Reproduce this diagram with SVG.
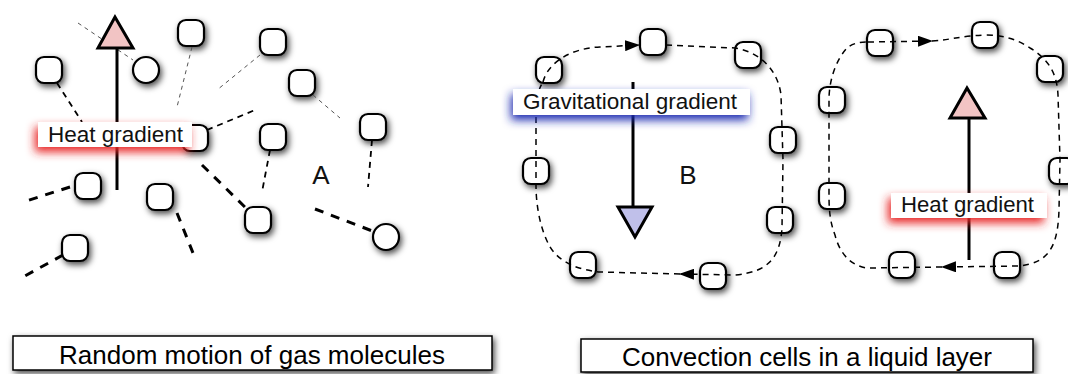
<svg xmlns="http://www.w3.org/2000/svg" width="1068" height="374" viewBox="0 0 1068 374">
<defs>
<filter id="sh" x="-50%" y="-50%" width="200%" height="200%">
<feDropShadow dx="2" dy="3" stdDeviation="3" flood-color="#000" flood-opacity="0.7"/>
</filter>
<filter id="glowR" x="-30%" y="-80%" width="160%" height="260%">
<feDropShadow dx="-3" dy="5" stdDeviation="5" flood-color="#e82828" flood-opacity="1"/>
</filter>
<filter id="glowB" x="-30%" y="-80%" width="160%" height="260%">
<feDropShadow dx="-2" dy="5" stdDeviation="5" flood-color="#1a2ab0" flood-opacity="1"/>
</filter>
<filter id="blur6" x="-200%" y="-100%" width="500%" height="300%">
<feGaussianBlur stdDeviation="6"/>
</filter>
<marker id="ah" viewBox="0 0 15 11" refX="14" refY="5.5" markerWidth="15" markerHeight="11" markerUnits="userSpaceOnUse" orient="auto">
<path d="M0,0 L15,5.5 L0,11 Z" fill="#000"/>
</marker>
<style>
.m{fill:#fff;stroke:#000;stroke-width:2.2;filter:url(#sh)}
.thin{stroke:#555;stroke-width:1;stroke-dasharray:4 4;fill:none}
.med{stroke:#000;stroke-width:1.8;stroke-dasharray:6 5;fill:none}
.thick{stroke:#000;stroke-width:3;stroke-dasharray:9 8;fill:none}
.cyc{stroke:#000;stroke-width:1.5;stroke-dasharray:6 5;fill:none}
.shaft{stroke:#000;stroke-width:3;fill:none}
.lbl{font-family:"Liberation Sans",Arial,Helvetica,sans-serif;font-size:22px;fill:#111}
.big{font-family:"Liberation Sans",Arial,Helvetica,sans-serif;font-size:26px;fill:#111}
.cap{font-family:"Liberation Sans",Arial,Helvetica,sans-serif;font-size:26px;fill:#000}
.box{fill:#fff;stroke:#000;stroke-width:1.5;filter:url(#sh)}
.lbox{fill:#fff}
</style>
</defs>
<rect width="1068" height="374" fill="#fff"/>

<!-- Section A molecules -->
<g id="molecules-A">
<rect id="a1" class="m" x="36" y="57" width="26" height="26" rx="8"/>
<circle id="a2" class="m" cx="146" cy="70" r="13"/>
<rect id="a3" class="m" x="178" y="20" width="26" height="26" rx="8"/>
<rect id="a4" class="m" x="260" y="29" width="26" height="26" rx="8"/>
<rect id="a5" class="m" x="289" y="70" width="26" height="26" rx="8"/>
<rect id="a6" class="m" x="360" y="114" width="26" height="26" rx="8"/>
<rect id="a7" class="m" x="182" y="125" width="26" height="26" rx="8"/>
<rect id="a8" class="m" x="260" y="124" width="26" height="26" rx="8"/>
<rect id="a9" class="m" x="75" y="173" width="26" height="26" rx="8"/>
<rect id="a10" class="m" x="147" y="184" width="26" height="26" rx="8"/>
<rect id="a11" class="m" x="245" y="207" width="26" height="26" rx="8"/>
<rect id="a12" class="m" x="62" y="235" width="26" height="26" rx="8"/>
<circle id="a13" class="m" cx="386" cy="237" r="13"/>
</g>

<!-- Section B molecules -->
<g id="molecules-B">
<rect id="b1" class="m" x="536" y="57" width="26" height="26" rx="8"/>
<rect id="b2" class="m" x="640" y="29" width="26" height="26" rx="8"/>
<rect id="b3" class="m" x="735" y="42" width="26" height="26" rx="8"/>
<rect id="b4" class="m" x="770" y="127" width="26" height="26" rx="8"/>
<rect id="b5" class="m" x="767" y="207" width="26" height="26" rx="8"/>
<rect id="b6" class="m" x="700" y="263" width="26" height="26" rx="8"/>
<rect id="b7" class="m" x="570" y="252" width="26" height="26" rx="8"/>
<rect id="b8" class="m" x="523" y="158" width="26" height="26" rx="8"/>
</g>

<!-- Section C molecules -->
<g id="molecules-C">
<rect id="c1" class="m" x="867" y="30" width="26" height="26" rx="8"/>
<rect id="c2" class="m" x="972" y="22" width="26" height="26" rx="8"/>
<rect id="c3" class="m" x="1037" y="56" width="26" height="26" rx="8"/>
<rect id="c4" class="m" x="1049" y="158" width="26" height="26" rx="8"/>
<rect id="c5" class="m" x="994" y="252" width="26" height="26" rx="8"/>
<rect id="c6" class="m" x="889" y="252" width="26" height="26" rx="8"/>
<rect id="c7" class="m" x="819" y="183" width="26" height="26" rx="8"/>
<rect id="c8" class="m" x="819" y="87" width="26" height="26" rx="8"/>
</g>

<g id="connectors">
<!-- A: random paths -->
<line class="thin" x1="78" y1="23" x2="133" y2="60"/>
<line class="thin" x1="192" y1="47" x2="177" y2="107"/>
<line class="thin" x1="260" y1="55" x2="217" y2="90"/>
<line class="thin" x1="313" y1="95" x2="340" y2="118"/>
<line class="med" x1="57" y1="83" x2="82" y2="122"/>
<line class="med" x1="207" y1="130" x2="255" y2="110"/>
<line class="med" x1="372" y1="140" x2="368" y2="187"/>
<line class="med" x1="270" y1="150" x2="262" y2="192"/>
<line class="thick" x1="70" y1="187" x2="23" y2="202"/>
<line class="thick" x1="202" y1="165" x2="250" y2="212"/>
<line class="thick" x1="177" y1="213" x2="195" y2="258"/>
<line class="thick" x1="315" y1="209" x2="375" y2="232"/>
<line class="thick" x1="63" y1="255" x2="23" y2="277"/>
<!-- B: convection cell -->
<path class="cyc" d="M543,82 C548,62 572,48 600,47 L639,45" marker-end="url(#ah)"/>
<path class="cyc" d="M666,45 L735,48 C760,52 778,70 781,95 L783,160 L782,228 C780,258 768,272 735,275 L680,274" marker-end="url(#ah)"/>
<path class="cyc" d="M680,274 L600,272 C578,270 558,262 549,245 C540,228 536,205 536,185 L536,110 C536,98 539,88 543,82"/>
<!-- C: convection cell -->
<path class="cyc" d="M868,42 L932,41" marker-end="url(#ah)"/>
<path class="cyc" d="M932,41 C950,40 960,36 985,35 C1005,35 1018,40 1030,48 C1050,60 1057,75 1058,95 L1060,160 L1059,210 C1058,240 1052,258 1030,264 L1020,266 L942,267" marker-end="url(#ah)"/>
<path class="cyc" d="M942,267 L867,268 C852,266 840,255 835,235 C830,222 829,210 829,195 L829,100 C829,80 836,60 847,48 C853,43 860,42 868,42"/>
</g>

<!-- Section A heat gradient -->
<g id="heat-gradient-A">
<line x1="112" y1="195" x2="112" y2="30" stroke="#f06060" stroke-width="16" opacity="0.5" filter="url(#blur6)"/>
<line class="shaft" x1="117" y1="190" x2="117" y2="48"/>
<polygon points="115,17 98,48 133,48" fill="#f2c4c4" stroke="#000" stroke-width="3" stroke-linejoin="miter"/>
<rect class="lbox" x="38" y="122" width="154" height="25" filter="url(#glowR)"/>
<text class="lbl" x="48" y="142" textLength="135" lengthAdjust="spacingAndGlyphs">Heat gradient</text>
</g>
<text id="label-A" class="big" x="321" y="184" text-anchor="middle">A</text>

<!-- Section B gravitational gradient -->
<g id="grav-gradient-B">
<line x1="631" y1="115" x2="631" y2="245" stroke="#4050d0" stroke-width="16" opacity="0.4" filter="url(#blur6)"/>
<line class="shaft" x1="633" y1="82" x2="633" y2="207"/>
<polygon points="618,207 652,207 635,237" fill="#c0c0ea" stroke="#000" stroke-width="3"/>
<rect class="lbox" x="513" y="89" width="237" height="26" filter="url(#glowB)"/>
<text class="lbl" x="523" y="109" textLength="214" lengthAdjust="spacingAndGlyphs">Gravitational gradient</text>
</g>
<text id="label-B" class="big" x="688" y="184" text-anchor="middle">B</text>

<!-- Section C heat gradient -->
<g id="heat-gradient-C">
<line x1="965" y1="262" x2="965" y2="80" stroke="#f06060" stroke-width="16" opacity="0.5" filter="url(#blur6)"/>
<line class="shaft" x1="969" y1="260" x2="969" y2="118"/>
<polygon points="967,88 950,118 985,118" fill="#f2c4c4" stroke="#000" stroke-width="3"/>
<rect class="lbox" x="891" y="193" width="156" height="25" filter="url(#glowR)"/>
<text class="lbl" x="901" y="212" textLength="133" lengthAdjust="spacingAndGlyphs">Heat gradient</text>
</g>

<!-- Captions -->
<g id="caption-A">
<rect class="box" x="13" y="336" width="479" height="34"/>
<text class="cap" x="252" y="364" text-anchor="middle">Random motion of gas molecules</text>
</g>
<g id="caption-B">
<rect class="box" x="581" y="339" width="452" height="33"/>
<text class="cap" x="807" y="366" text-anchor="middle">Convection cells in a liquid layer</text>
</g>
</svg>
